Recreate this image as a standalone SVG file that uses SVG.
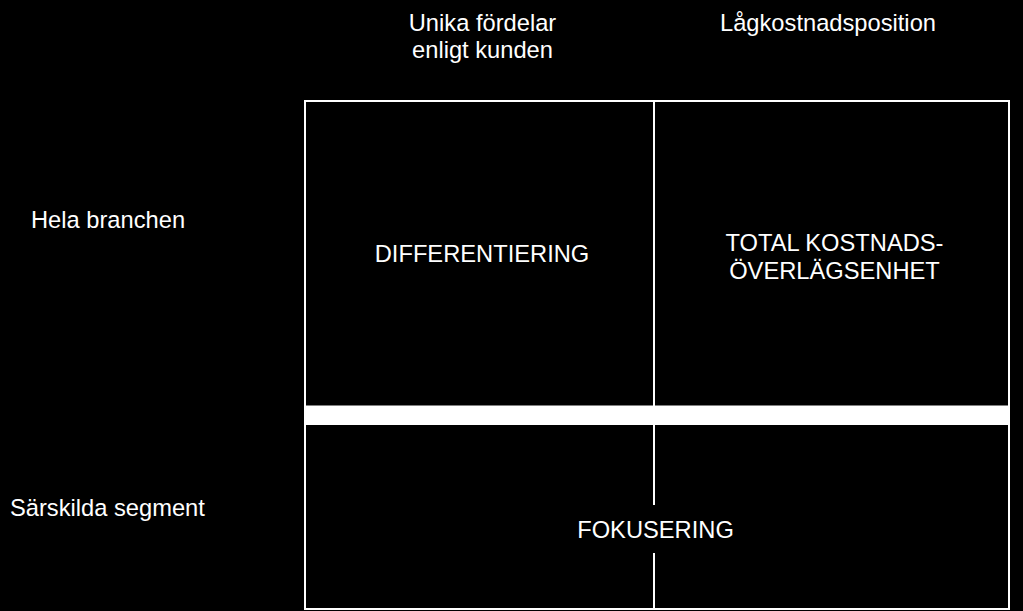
<svg xmlns="http://www.w3.org/2000/svg" width="1023" height="611" viewBox="0 0 1023 611">
  <style>
    text { font-family: "Liberation Sans", Arial, sans-serif; font-size: 23.7px; fill: #ffffff; }
    .c { text-anchor: middle; }
    .ln { stroke: #ffffff; stroke-width: 2; fill: none; }
  </style>
  <rect x="0" y="0" width="1023" height="611" fill="#000000"/>
  <g id="connectors">
    <rect class="ln" x="305" y="101" width="704" height="508"/>
    <line class="ln" x1="654" y1="101" x2="654" y2="406"/>
    <line class="ln" x1="654" y1="425" x2="654" y2="505"/>
    <line class="ln" x1="654" y1="553" x2="654" y2="609"/>
    <rect x="305" y="405.5" width="704" height="19.5" fill="#ffffff"/>
  </g>
  <g id="col-unika">
    <text class="c" x="482.5" y="31">Unika fördelar</text>
    <text class="c" x="482.5" y="58">enligt kunden</text>
  </g>
  <g id="col-lag">
    <text class="c" x="828" y="31">Lågkostnadsposition</text>
  </g>
  <g id="row-hela">
    <text x="31" y="227.5">Hela branchen</text>
  </g>
  <g id="row-sarskilda">
    <text x="10" y="516">Särskilda segment</text>
  </g>
  <g id="differentiering">
    <text class="c" x="482" y="261.5">DIFFERENTIERING</text>
  </g>
  <g id="total">
    <text class="c" x="834.5" y="251">TOTAL KOSTNADS-</text>
    <text class="c" x="834.5" y="278.5">ÖVERLÄGSENHET</text>
  </g>
  <g id="fokusering">
    <text class="c" x="655.5" y="538">FOKUSERING</text>
  </g>
</svg>
